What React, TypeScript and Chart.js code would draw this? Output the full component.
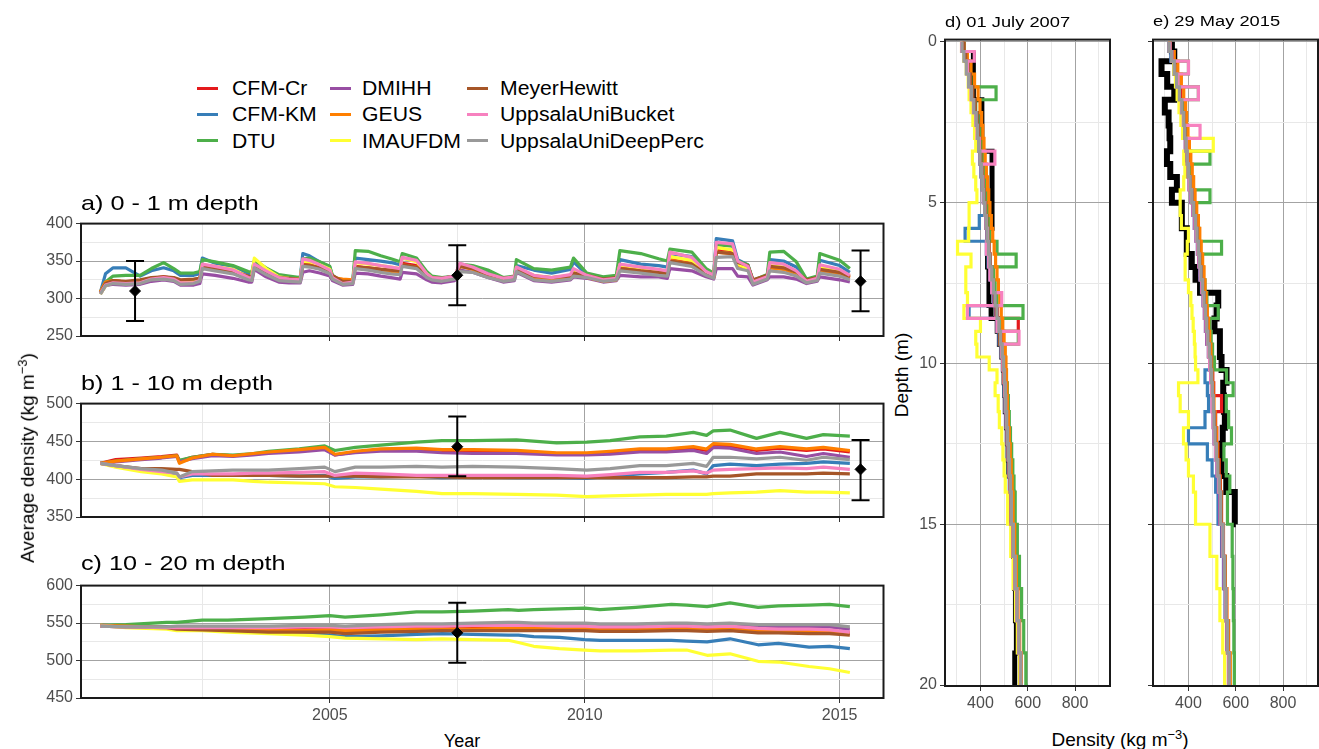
import React, { useEffect, useRef } from 'react';
import { Chart, registerables } from 'chart.js';

Chart.register(...registerables);

const FONT = '"Liberation Sans", Arial, Helvetica, sans-serif';
const TICK_TEXT = '#4D4D4D';
const MAJOR_GRID = '#A3A3A3';
const MINOR_GRID = '#E8E8E8';
const TICK_MARK = '#333333';

// ---------- series ----------
const seriesNames = ['CFM-Cr', 'CFM-KM', 'DTU', 'DMIHH', 'GEUS', 'IMAUFDM', 'MeyerHewitt', 'UppsalaUniBucket', 'UppsalaUniDeepPerc'];
const seriesColors = ['#E41A1C', '#377EB8', '#4DAF4A', '#984EA3', '#FF7F00', '#FFFF33', '#A65628', '#F781BF', '#999999'];

// ---------- panel a: 0 - 1 m ----------
const timeA = [2000.5, 2000.6, 2000.75, 2001.0, 2001.28, 2001.5, 2001.74, 2001.94, 2002.07, 2002.33,
  2002.45, 2002.5, 2002.75, 2003.1, 2003.4, 2003.47, 2003.52, 2003.75, 2004.0, 2004.2,
  2004.42, 2004.47, 2004.6, 2004.8, 2005.0, 2005.05, 2005.25, 2005.45, 2005.5, 2005.75,
  2006.0, 2006.2, 2006.38, 2006.42, 2006.7, 2006.9, 2007.0, 2007.2, 2007.45, 2007.55,
  2007.8, 2008.1, 2008.4, 2008.62, 2008.66, 2009.0, 2009.35, 2009.72, 2009.78, 2010.04,
  2010.36, 2010.62, 2010.69, 2011.1, 2011.45, 2011.62, 2011.67, 2012.1, 2012.38, 2012.53,
  2012.58, 2012.9, 2013.0, 2013.2, 2013.3, 2013.58, 2013.63, 2013.9, 2014.15, 2014.35,
  2014.56, 2014.61, 2015.0, 2015.2];
const aCfmCr = [307,320,324,322,324,327,329,327,324,325, 327,344,341,337,328,327,344,335,327,325, 324,347,346,343,337,329,321,322,343,341, 339,337,336,347,344,331,327,326,329,344, 340,331,326,328,339,329,326,329,334,330, 325,327,341,338,335,334,352,347,333,329, 366,364,345,342,322,329,342,340,334,323, 326,338,334,328];
const aCfmKm = [308,333,341,341,330,337,341,337,331,331, 333,354,347,343,333,333,349,339,330,328, 327,360,357,349,342,330,321,323,354,352, 350,348,345,354,351,333,328,327,330,345, 342,334,327,329,344,338,334,339,349,332, 326,328,352,346,344,342,360,356,337,331, 380,377,352,345,323,330,352,350,342,324, 328,351,344,335];
const aDtu = [308,322,330,331,331,340,348,340,334,334, 336,352,349,344,336,335,351,341,332,330, 328,353,354,349,343,331,322,324,364,363, 357,353,349,360,354,336,330,328,330,346, 344,338,328,330,352,340,338,342,354,334, 329,331,364,360,353,350,366,362,340,334, 372,370,350,345,324,332,362,363,349,326, 330,360,351,340];
const aDmihh = [306,317,319,318,319,323,325,323,318,318, 320,333,331,327,322,322,339,329,322,321, 321,335,337,334,330,324,318,319,334,333, 330,328,326,335,333,325,322,321,324,338, 335,328,322,324,335,324,322,325,329,327, 322,324,331,329,329,327,340,337,329,326, 340,340,330,329,318,325,329,329,326,320, 323,329,325,322];
const aGeus = [309,322,324,322,324,327,328,326,322,323, 326,343,340,337,327,326,343,334,326,324, 324,345,344,340,336,328,326,325,342,340, 338,336,335,345,342,330,326,325,328,343, 339,330,325,327,338,328,325,328,333,328, 323,325,340,337,334,333,351,346,332,328, 362,360,344,341,321,328,341,339,333,322, 325,337,333,327];
const aImau = [306,317,321,320,321,327,328,327,322,323, 325,345,343,339,329,330,354,340,329,327, 326,350,349,345,339,329,321,322,348,346, 344,342,340,354,349,333,328,326,329,345, 341,332,326,328,341,331,328,331,338,330, 325,327,345,341,338,336,356,351,335,330, 368,365,346,340,321,328,344,342,335,323, 326,342,337,330];
const aMeyer = [307,320,324,323,325,328,329,328,325,326, 327,342,340,336,330,329,342,335,328,327, 326,345,344,341,336,331,323,323,342,341, 339,338,337,345,342,332,328,327,330,343, 340,332,327,329,338,330,328,330,334,331, 326,328,340,337,335,334,350,346,333,330, 362,360,348,344,325,331,343,341,335,325, 328,339,335,329];
const aBucket = [307,318,321,320,321,326,328,326,321,321, 324,346,343,338,328,327,346,337,328,326, 325,353,351,345,338,328,320,322,349,347, 344,342,340,355,351,333,328,327,330,347, 342,333,327,329,342,331,328,332,340,331, 325,327,346,342,339,337,362,355,336,331, 375,373,350,343,322,329,348,346,337,323, 327,345,339,331];
const aDeep = [306,317,320,319,320,325,326,324,319,320, 323,340,337,333,325,324,341,332,324,323, 322,343,342,339,333,326,319,320,340,338, 335,333,332,343,340,328,325,323,326,336, 335,328,323,325,336,325,323,326,330,328, 323,325,337,334,331,330,348,343,331,327, 355,356,340,337,319,326,337,335,330,321, 324,334,330,325];
const aErrYear = [2001.18, 2007.5, 2015.41];
const aErrMid = [310, 331, 323];
const aErrLo = [270, 291, 283];
const aErrHi = [350, 371, 364];
const aDensityTicks = [250, 275, 300, 325, 350, 375, 400];

// ---------- panel b: 1 - 10 m ----------
const timeB = [2000.5, 2000.8, 2001.3, 2001.7, 2002.0, 2002.05, 2002.3, 2002.7, 2003.1, 2003.5,
  2003.8, 2004.4, 2004.9, 2005.1, 2005.5, 2006.0, 2006.7, 2007.2, 2007.8, 2008.66,
  2009.45, 2010.04, 2010.5, 2011.08, 2011.6, 2012.13, 2012.39, 2012.52, 2012.85, 2013.37,
  2013.83, 2014.35, 2014.68, 2015.2];
const bCfmCr = [421,426,428,430,432,424,429,433,431,433, 435,438,441,432,436,439,440,438,438,437, 434,434,435,438,438,441,438,445,444,438, 441,438,440,436];
const bCfmKm = [421,418,413,410,407,402,405,405,405,405, 405,404,405,401,403,403,404,402,403,402, 402,401,404,407,409,412,407,418,420,418, 420,421,423,421];
const bDtu = [421,424,427,429,431,425,429,433,432,434, 437,440,444,438,442,445,449,451,451,452, 448,449,451,456,457,462,458,464,465,454, 462,454,459,457];
const bDmihh = [421,423,426,428,430,423,427,431,430,432, 434,436,439,432,435,437,437,435,434,434, 432,432,433,436,436,438,434,442,441,434, 436,430,434,429];
const bGeus = [421,424,427,429,431,421,428,433,431,434, 436,439,442,433,437,440,441,439,439,438, 435,435,437,440,440,443,440,447,446,440, 443,440,442,438];
const bImau = [421,416,410,407,403,397,399,399,399,397, 396,395,394,390,389,387,384,381,381,380, 379,377,378,379,380,380,380,381,382,383, 385,383,383,382];
const bMeyer = [421,418,414,414,413,413,410,405,405,405, 405,404,404,404,404,403,403,403,402,402, 402,402,402,402,402,403,403,404,404,407, 407,407,408,407];
const bBucket = [421,418,413,410,408,403,407,407,407,408, 408,409,410,405,408,407,405,405,405,405, 405,404,406,409,409,411,408,412,413,414, 415,414,416,413];
const bDeep = [421,418,414,412,408,403,410,411,412,412, 412,414,416,410,416,416,417,416,417,416, 414,412,414,418,418,421,417,429,429,427, 429,425,429,426];
const bErrYear = [2007.5, 2015.41];
const bErrMid = [443, 413];
const bErrLo = [404, 372];
const bErrHi = [483, 452];
const bDensityTicks = [350, 375, 400, 425, 450, 475, 500];

// ---------- panel c: 10 - 20 m ----------
const timeC = [2000.5, 2001.0, 2001.8, 2002.0, 2002.5, 2003.0, 2003.8, 2004.5, 2005.0, 2005.3,
  2006.0, 2006.7, 2007.2, 2007.8, 2008.5, 2008.7, 2009.0, 2009.5, 2010.0, 2010.3,
  2011.0, 2011.7, 2012.0, 2012.4, 2012.85, 2013.4, 2013.8, 2014.4, 2014.8, 2015.2];
const cCfmCr = [547,546,545,545,544,543,542,542,542,541, 542,543,543,544,545,545,545,545,545,543, 543,545,545,543,545,541,541,541,540,537];
const cCfmKm = [547,546,545,545,543,542,540,537,534,532, 533,535,536,535,534,534,532,531,528,527, 527,527,526,525,529,521,523,518,519,516];
const cDtu = [547,548,551,551,554,554,556,558,560,558, 561,565,565,566,568,567,568,569,570,568, 571,575,574,572,577,571,573,574,575,572];
const cDmihh = [546,545,545,545,545,545,545,546,546,545, 546,547,547,548,548,548,547,547,547,546, 546,547,547,546,547,545,545,545,545,542];
const cGeus = [547,546,544,542,541,541,540,540,541,540, 541,542,542,542,543,543,543,543,543,541, 541,542,542,541,542,539,539,539,539,537];
const cImau = [547,544,542,540,540,538,536,534,532,530, 529,528,529,528,527,524,519,516,514,513, 513,514,514,507,509,499,498,492,489,484];
const cMeyer = [546,545,544,542,541,540,538,538,538,536, 538,539,540,540,540,540,540,540,540,539, 539,540,540,539,540,537,537,536,536,534];
const cBucket = [546,545,544,544,544,544,544,545,545,544, 545,546,546,547,547,547,547,546,546,545, 545,546,546,545,546,543,542,542,541,538];
const cDeep = [546,545,545,546,546,546,546,547,547,546, 548,549,549,550,551,551,550,550,550,549, 549,550,550,549,550,548,548,548,548,545];
const cErrYear = [2007.5];
const cErrMid = [537];
const cErrLo = [497];
const cErrHi = [577];
const cDensityTicks = [450, 475, 500, 525, 550, 575, 600];

const yearTicks = [2002.5, 2005, 2007.5, 2010, 2012.5, 2015];

// ---------- profiles (d, e) ----------
const depthGrid = [0, 0.3, 0.6, 1.0, 1.4, 1.8, 2.2, 2.6, 3.0, 3.4,
  3.8, 4.2, 4.6, 5.0, 5.4, 5.8, 6.2, 6.6, 7.0, 7.4,
  7.8, 8.2, 8.6, 9.0, 9.4, 9.8, 10.2, 10.6, 11.0, 11.5,
  12.0, 12.5, 13.0, 13.5, 14.0, 15.0, 16.0, 17.0, 18.0, 19.0, 20.0];

const dObs = [null,370,370,370,370,406,406,406,406,449, 449,449,449,449,449,430,430,430,436,436, 436,445,471,480,490,497,500,503,505,510, 514,517,520,528,537,540,545,548,552,545, 548];
const dCfmCr = [330,335,345,355,365,378,388,392,398,402, 408,412,418,425,430,432,436,442,450,455, 465,472,560,488,495,500,503,506,508,512, 516,520,524,528,532,540,548,556,564,572, 580];
const dCfmKm = [330,338,348,355,362,372,380,388,392,398, 402,408,412,418,395,335,425,432,440,448, 455,352,470,478,485,493,498,500,502,506, 510,514,518,522,526,534,543,552,560,568, 576];
const dDtu = [330,340,350,360,466,380,390,398,405,410, 415,420,425,430,435,440,470,551,455,462, 470,580,490,560,500,505,510,514,518,522, 527,532,537,542,547,556,565,574,583,592, 600];
const dDmihh = [325,332,342,352,362,372,382,388,393,398, 403,408,413,418,422,426,430,436,442,448, 456,464,472,480,488,495,499,502,505,509, 513,517,521,525,529,537,545,553,561,569, 577];
const dGeus = [330,345,360,375,390,398,405,410,415,420, 425,430,435,440,446,452,458,464,470,476, 482,488,494,500,505,508,510,512,514,518, 522,526,530,534,538,545,552,559,566,573, 580];
const dImau = [320,330,340,348,352,360,368,375,380,366, 372,380,385,352,352,350,303,360,338,338, 345,330,400,380,385,437,470,462,475,480, 490,495,500,505,515,528,538,548,556,565, 572];
const dMeyer = [330,338,348,358,368,378,386,392,397,402, 407,412,417,422,427,431,436,441,447,453, 460,467,474,481,488,494,498,502,505,509, 513,517,521,525,529,537,545,553,561,569, 577];
const dBucket = [320,374,345,350,360,370,380,385,395,461, 405,410,412,418,424,430,425,435,440,448, 490,345,470,563,490,495,500,503,506,510, 514,518,522,526,530,538,546,554,562,570, 578];
const dDeep = [322,330,340,350,362,372,382,388,392,398, 404,408,414,418,424,428,434,440,448,455, 462,470,478,485,492,498,502,505,507,511, 515,519,523,527,531,539,547,555,563,571, 579];

const eObs = [330,340,286,310,340,300,316,320,323,309, 323,351,330,372,372,393,393,414,430,449, 526,519,510,533,533,540,561,547,550,554, 545,540,540,560,596,600,null,null,null,null, null];
const eCfmCr = [320,330,342,355,368,376,382,388,394,400, 405,410,418,425,432,440,446,452,458,465, 470,476,480,485,492,498,503,507,540,515, 520,525,530,535,540,548,555,561,567,573, 579];
const eCfmKm = [318,325,338,348,360,370,378,383,390,395, 400,408,415,420,425,432,438,443,448,455, 462,468,472,478,485,490,470,480,485,470, 400,480,500,515,525,540,548,555,562,570, 577];
const eDtu = [320,335,400,355,442,375,385,390,398,491, 405,420,491,430,438,445,540,455,462,470, 478,526,490,496,502,510,561,589,560,570, 582,550,560,575,565,585,588,590,592,594, 596];
const eDmihh = [318,328,338,348,360,370,376,380,386,390, 396,402,410,418,425,432,438,443,450,456, 462,467,472,477,484,490,494,497,500,504, 508,514,520,526,532,542,550,556,562,569, 576];
const eGeus = [320,340,355,370,380,388,392,398,404,410, 416,422,428,435,442,448,454,460,466,470, 475,480,485,490,495,498,500,504,508,513, 518,523,528,533,538,548,556,563,570,577, 584];
const eImau = [320,330,338,345,352,360,368,375,505,380, 385,380,365,365,370,400,395,386,386,400, 410,415,420,425,428,430,440,358,365,400, 379,390,400,421,430,491,520,533,545,553, 561];
const eMeyer = [322,332,342,352,362,372,380,385,390,395, 400,408,415,422,430,437,443,448,455,460, 467,472,477,482,489,495,499,502,505,510, 514,520,526,532,538,547,554,560,566,572, 578];
const eBucket = [322,330,400,355,442,370,378,449,390,395, 400,405,413,420,428,433,440,445,450,457, 463,470,475,480,485,490,495,498,500,505, 510,515,522,528,535,545,552,558,564,571, 578];
const eDeep = [318,328,340,350,362,372,380,384,390,395, 400,407,414,422,430,436,442,447,453,460, 466,472,477,482,488,494,498,501,505,508, 512,518,524,530,536,546,553,559,565,572, 579];

const profileDensityTicks = [300, 400, 500, 600, 700, 800, 900];
const depthTicks = [0, 2.5, 5, 7.5, 10, 12.5, 15, 17.5, 20];

// ---------- plugins ----------
const framePlugin = {
  id: 'panelFrame',
  afterDraw(chart: any) {
    const { ctx, chartArea: a } = chart;
    ctx.save();
    ctx.strokeStyle = '#1A1A1A';
    ctx.lineWidth = 2;
    ctx.strokeRect(a.left, a.top, a.right - a.left, a.bottom - a.top);
    ctx.restore();
  },
};

const errorBarPlugin = {
  id: 'errorBars',
  afterDatasetsDraw(chart: any) {
    const xs = chart.scales.x;
    const ys = chart.scales.y;
    const ctx = chart.ctx;
    chart.data.datasets.forEach((ds: any) => {
      if (!ds.errLo) return;
      ctx.save();
      ctx.strokeStyle = '#000';
      ctx.lineWidth = 2;
      ds.errX.forEach((xv: number, i: number) => {
        const x = xs.getPixelForValue(xv);
        const y1 = ys.getPixelForValue(ds.errLo[i]);
        const y2 = ys.getPixelForValue(ds.errHi[i]);
        ctx.beginPath();
        ctx.moveTo(x, y1); ctx.lineTo(x, y2);
        ctx.moveTo(x - 9, y1); ctx.lineTo(x + 9, y1);
        ctx.moveTo(x - 9, y2); ctx.lineTo(x + 9, y2);
        ctx.stroke();
      });
      ctx.restore();
    });
  },
};

const tickFont = { family: FONT, size: 16 };

function axisCommon(
  min: number, max: number, tickVals: number[], isMajor: (v: number) => boolean,
  label: (v: number) => string, fit: (s: any) => void, reverse = false,
) {
  return {
    type: 'linear',
    min, max, reverse,
    afterBuildTicks: (s: any) => { s.ticks = tickVals.map((v) => ({ value: v })); },
    afterFit: fit,
    ticks: {
      autoSkip: false, maxRotation: 0, minRotation: 0, padding: 3,
      color: TICK_TEXT, font: tickFont,
      callback: (v: any) => label(Number(v)),
    },
    grid: {
      color: (c: any) => (c.tick && isMajor(c.tick.value) ? MAJOR_GRID : MINOR_GRID),
      tickColor: (c: any) => (c.tick && isMajor(c.tick.value) ? TICK_MARK : 'rgba(0,0,0,0)'),
      lineWidth: 1,
      tickLength: 5,
      drawTicks: true,
    },
    border: { display: false },
  };
}

function makeTimeChart(
  canvas: HTMLCanvasElement, times: number[], series: number[][],
  yMin: number, yMax: number, yTicks: number[],
  errX: number[], errMid: number[], errLo: number[], errHi: number[],
  showXLabels: boolean, xAxisHeight: number,
) {
  const datasets: any[] = series.map((vals, i) => ({
    type: 'line',
    label: seriesNames[i],
    data: times.map((t, j) => ({ x: t, y: vals[j] })),
    borderColor: seriesColors[i],
    backgroundColor: seriesColors[i],
    borderWidth: 3.2,
    borderJoinStyle: 'round',
    pointRadius: 0,
    tension: 0,
    order: 9 - i,
  }));
  datasets.push({
    type: 'scatter',
    label: 'Observations',
    data: errX.map((x, j) => ({ x, y: errMid[j] })),
    pointStyle: 'rectRot',
    pointRadius: 5.5,
    backgroundColor: '#000',
    borderColor: '#000',
    errX, errLo, errHi,
    order: 0,
  });
  return new Chart(canvas, {
    type: 'line',
    data: { datasets },
    options: {
      animation: false,
      responsive: false,
      events: [],
      layout: { padding: { top: 12, right: 6, bottom: 0, left: 0 } },
      plugins: { legend: { display: false }, tooltip: { enabled: false } },
      scales: {
        x: axisCommon(2000.12, 2015.86, yearTicks, (v) => v % 5 === 0,
          (v) => (showXLabels && v % 5 === 0 ? String(v) : ''),
          (s: any) => { s.height = xAxisHeight; }),
        y: axisCommon(yMin, yMax, yTicks, (v) => v % 50 === 0,
          (v) => (v % 50 === 0 ? String(v) : ''),
          (s: any) => { s.width = 81; }),
      },
    } as any,
    plugins: [framePlugin, errorBarPlugin],
  } as any);
}

function makeProfileChart(
  canvas: HTMLCanvasElement, obs: (number | null)[], series: number[][],
  showYLabels: boolean, yAxisWidth: number, padRight: number, obsWidth: number,
) {
  const datasets: any[] = [];
  datasets.push({
    label: 'Observations',
    data: depthGrid.map((d, j) => ({ x: obs[j], y: d })).filter((p) => p.x !== null),
    borderColor: '#000',
    backgroundColor: '#000',
    borderWidth: obsWidth,
    pointRadius: 0,
    stepped: 'after',
    order: 20,
  });
  series.forEach((vals, i) => {
    datasets.push({
      label: seriesNames[i],
      data: depthGrid.map((d, j) => ({ x: vals[j], y: d })),
      borderColor: seriesColors[i],
      backgroundColor: seriesColors[i],
      borderWidth: 3.2,
      pointRadius: 0,
      stepped: 'after',
      order: 9 - i,
    });
  });
  return new Chart(canvas, {
    type: 'line',
    data: { datasets },
    options: {
      animation: false,
      responsive: false,
      events: [],
      layout: { padding: { top: 12, right: padRight, bottom: 0, left: 0 } },
      plugins: { legend: { display: false }, tooltip: { enabled: false } },
      scales: {
        x: axisCommon(250, 948, profileDensityTicks, (v) => v % 200 === 0,
          (v) => (v % 200 === 0 ? String(v) : ''),
          (s: any) => { s.height = 26; }),
        y: axisCommon(-0.07, 20.03, depthTicks, (v) => v % 5 === 0,
          (v) => (showYLabels && v % 5 === 0 ? String(v) : ''),
          (s: any) => { s.width = yAxisWidth; }, true),
      },
    } as any,
    plugins: [framePlugin],
  } as any);
}

const abs = (extra: React.CSSProperties): React.CSSProperties => ({ position: 'absolute', whiteSpace: 'nowrap', ...extra });

export default function App() {
  const refA = useRef<HTMLCanvasElement>(null);
  const refB = useRef<HTMLCanvasElement>(null);
  const refC = useRef<HTMLCanvasElement>(null);
  const refD = useRef<HTMLCanvasElement>(null);
  const refE = useRef<HTMLCanvasElement>(null);

  useEffect(() => {
    Chart.defaults.font.family = FONT;
    const charts: Chart[] = [];
    charts.push(makeTimeChart(refA.current!, timeA,
      [aCfmCr, aCfmKm, aDtu, aDmihh, aGeus, aImau, aMeyer, aBucket, aDeep],
      250, 400, aDensityTicks, aErrYear, aErrMid, aErrLo, aErrHi, false, 14));
    charts.push(makeTimeChart(refB.current!, timeB,
      [bCfmCr, bCfmKm, bDtu, bDmihh, bGeus, bImau, bMeyer, bBucket, bDeep],
      350, 500, bDensityTicks, bErrYear, bErrMid, bErrLo, bErrHi, false, 14));
    charts.push(makeTimeChart(refC.current!, timeC,
      [cCfmCr, cCfmKm, cDtu, cDmihh, cGeus, cImau, cMeyer, cBucket, cDeep],
      450, 600, cDensityTicks, cErrYear, cErrMid, cErrLo, cErrHi, true, 30));
    charts.push(makeProfileChart(refD.current!, dObs,
      [dCfmCr, dCfmKm, dDtu, dDmihh, dGeus, dImau, dMeyer, dBucket, dDeep], true, 30, 6, 5));
    charts.push(makeProfileChart(refE.current!, eObs,
      [eCfmCr, eCfmKm, eDtu, eDmihh, eGeus, eImau, eMeyer, eBucket, eDeep], false, 6, 1, 6));
    return () => charts.forEach((c) => c.destroy());
  }, []);

  const legendLineX = [197, 330, 467];
  const legendTextX = [232, 362, 500];
  const legendRowY = [88, 114, 140.5];

  const canvasStyle = (left: number, top: number, w: number, h: number): React.CSSProperties =>
    ({ position: 'absolute', left, top, width: w, height: h });

  return (
    <div style={{ position: 'absolute', left: 0, top: 0, width: 1319, height: 749, overflow: 'hidden', background: '#fff', fontFamily: FONT, color: '#000' }}>
      <canvas ref={refA} width={890} height={139} style={canvasStyle(0, 211, 890, 139)} />
      <canvas ref={refB} width={890} height={140} style={canvasStyle(0, 391, 890, 140)} />
      <canvas ref={refC} width={890} height={155} style={canvasStyle(0, 573, 890, 155)} />
      <canvas ref={refD} width={201} height={685} style={canvasStyle(915, 27, 201, 685)} />
      <canvas ref={refE} width={172} height={685} style={canvasStyle(1147, 27, 172, 685)} />

      {seriesNames.map((name, i) => {
        const col = Math.floor(i / 3);
        const row = i % 3;
        return (
          <React.Fragment key={name}>
            <div style={abs({ left: legendLineX[col], top: legendRowY[row] - 1.5, width: 21, height: 3, background: seriesColors[i] })} />
            <div style={abs({ left: legendTextX[col], top: legendRowY[row] - 12, fontSize: 20, lineHeight: '24px', transform: 'scaleX(1.06)', transformOrigin: 'left center' })}>{name}</div>
          </React.Fragment>
        );
      })}

      <div style={abs({ left: 81, top: 191.5, fontSize: 21, lineHeight: 1, transform: 'scaleX(1.2)', transformOrigin: 'left center' })}>a) 0 - 1 m depth</div>
      <div style={abs({ left: 81, top: 371.5, fontSize: 21, lineHeight: 1, transform: 'scaleX(1.2)', transformOrigin: 'left center' })}>b) 1 - 10 m depth</div>
      <div style={abs({ left: 81, top: 552, fontSize: 21, lineHeight: 1, transform: 'scaleX(1.2)', transformOrigin: 'left center' })}>c) 10 - 20 m depth</div>
      <div style={abs({ left: 945, top: 13.5, fontSize: 15.5, lineHeight: 1, transform: 'scaleX(1.18)', transformOrigin: 'left center' })}>d) 01 July 2007</div>
      <div style={abs({ left: 1153, top: 13, fontSize: 15.5, lineHeight: 1, transform: 'scaleX(1.18)', transformOrigin: 'left center' })}>e) 29 May 2015</div>

      <div style={abs({ left: 27, top: 457.5, fontSize: 19, lineHeight: 1, transform: 'translate(-50%, -50%) rotate(-90deg)' })}>
        Average density (kg m<sup style={{ fontSize: '0.68em' }}>−3</sup>)
      </div>
      <div style={abs({ left: 462, top: 731.5, fontSize: 18, lineHeight: 1, transform: 'translateX(-50%)' })}>Year</div>
      <div style={abs({ left: 901, top: 375, fontSize: 19, lineHeight: 1, transform: 'translate(-50%, -50%) rotate(-90deg)' })}>Depth (m)</div>
      <div style={abs({ left: 1120, top: 728.5, fontSize: 19, lineHeight: 1, transform: 'translateX(-50%)' })}>
        Density (kg m<sup style={{ fontSize: '0.68em' }}>−3</sup>)
      </div>
    </div>
  );
}
